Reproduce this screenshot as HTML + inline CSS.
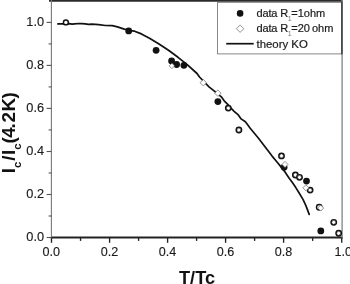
<!DOCTYPE html>
<html>
<head>
<meta charset="utf-8">
<title>Ic/Ic(4.2K) vs T/Tc</title>
<style>
html,body{margin:0;padding:0;background:#fff;}
body{width:350px;height:284px;overflow:hidden;}
svg{display:block;}
text{font-family:"Liberation Sans",Arial,sans-serif;fill:#1a1a1a;}
.tk{font-size:12px;stroke:#1a1a1a;stroke-width:0.12px;}
.lg{font-size:11px;stroke:#1a1a1a;stroke-width:0.2px;}
.ax{font-weight:bold;font-size:18px;fill:#111;}
</style>
</head>
<body>
<svg width="350" height="284" viewBox="0 0 350 284">
<rect x="0" y="0" width="350" height="284" fill="#fff"/>
<!-- axes -->
<g id="axes" fill="none">
<line x1="49" y1="0.8" x2="342.7" y2="0.8" stroke="#2a2a2a" stroke-width="1.8"/>
<line x1="51" y1="237.5" x2="342.7" y2="237.5" stroke="#222" stroke-width="1.9"/>
<line x1="51.4" y1="0" x2="51.4" y2="238.4" stroke="#777" stroke-width="1.1"/>
<line x1="342.1" y1="0" x2="342.1" y2="238.4" stroke="#8a8a8a" stroke-width="1.4"/>
</g>
<!-- y ticks -->
<g id="yticks" stroke="#555" stroke-width="1.1">
<line x1="46.6" y1="22.4" x2="51.5" y2="22.4"/>
<line x1="46.6" y1="65.4" x2="51.5" y2="65.4"/>
<line x1="46.6" y1="108.4" x2="51.5" y2="108.4"/>
<line x1="46.6" y1="151.5" x2="51.5" y2="151.5"/>
<line x1="46.6" y1="194.5" x2="51.5" y2="194.5"/>
<line x1="46.6" y1="237.5" x2="51.5" y2="237.5"/>
<line x1="48.6" y1="43.90" x2="51.5" y2="43.90"/>
<line x1="48.6" y1="86.90" x2="51.5" y2="86.90"/>
<line x1="48.6" y1="129.95" x2="51.5" y2="129.95"/>
<line x1="48.6" y1="173.00" x2="51.5" y2="173.00"/>
<line x1="48.6" y1="216.00" x2="51.5" y2="216.00"/>
</g>
<!-- x ticks -->
<g id="xticks" stroke="#222" stroke-width="1.35">
<line x1="51.5" y1="237.5" x2="51.5" y2="242.8"/>
<line x1="109.6" y1="237.5" x2="109.6" y2="242.8"/>
<line x1="167.6" y1="237.5" x2="167.6" y2="242.8"/>
<line x1="225.6" y1="237.5" x2="225.6" y2="242.8"/>
<line x1="283.6" y1="237.5" x2="283.6" y2="242.8"/>
<line x1="341.7" y1="237.5" x2="341.7" y2="242.8"/>
<line x1="80.55" y1="237.5" x2="80.55" y2="240.9"/>
<line x1="138.60" y1="237.5" x2="138.60" y2="240.9"/>
<line x1="196.60" y1="237.5" x2="196.60" y2="240.9"/>
<line x1="254.60" y1="237.5" x2="254.60" y2="240.9"/>
<line x1="312.65" y1="237.5" x2="312.65" y2="240.9"/>
</g>
<!-- tick labels -->
<g class="tk" text-anchor="end">
<text transform="translate(44.1,25.6) scale(1.065,1)">1.0</text>
<text transform="translate(44.1,68.7) scale(1.065,1)">0.8</text>
<text transform="translate(44.1,111.8) scale(1.065,1)">0.6</text>
<text transform="translate(44.1,154.9) scale(1.065,1)">0.4</text>
<text transform="translate(44.1,198.0) scale(1.065,1)">0.2</text>
<text transform="translate(44.1,241.1) scale(1.065,1)">0.0</text>
</g>
<g class="tk" text-anchor="middle">
<text transform="translate(51.3,256) scale(1.05,1)">0.0</text>
<text transform="translate(109.5,256) scale(1.05,1)">0.2</text>
<text transform="translate(167.5,256) scale(1.05,1)">0.4</text>
<text transform="translate(225.5,256) scale(1.05,1)">0.6</text>
<text transform="translate(283.5,256) scale(1.05,1)">0.8</text>
<text transform="translate(343.2,256) scale(1.05,1)">1.0</text>
</g>
<!-- axis titles -->
<text class="ax" transform="translate(179,283.5) scale(1.04,1)" style="font-size:17.5px">T/Tc</text>
<text class="ax" transform="translate(14.6,173.3) rotate(-90) scale(1.045,1)">I<tspan style="font-size:11px" dy="6">c</tspan><tspan dy="-6" dx="0.8 0.5">/I</tspan><tspan style="font-size:11px" dy="6">c</tspan><tspan dy="-6" dx="0 -0.5 -1.2 0.8 0.5 -0.5">(4.2K)</tspan></text>
<!-- theory curve -->
<path id="curve" fill="none" stroke="#111" stroke-width="1.7" stroke-linejoin="round" stroke-linecap="round"
d="M57.9 23.9 L62.9 23.9 L69.1 23.7 L72 24.2 L74.9 23.9 L78.3 23.5 L81.7 23.7 L85.1 23.9 L88.6 24.4 L92 24.1 L98.6 24.6 L105.4 25.5 L112.3 25.7 L117.4 26.9 L124.3 29.1 L128.6 30.3 L134.6 31.2 L141.4 33.9 L149.5 38.3 L159 44 L168.5 50.3 L178 57.3 L187.5 64.9 L197 73.5 L199.5 77.0 L209 86.8 L214.7 91.3 L221.3 96.8 L224.2 100.8 L228.2 104.9 L232 109.2 L234.1 111.3 L238.3 114.9 L241.1 118.9 L245.4 121.8 L248.2 125.5 L250 128 L258.5 138.3 L267.1 149.4 L272.1 156.1 L277.2 162.2 L280.6 166.4 L284 170.6 L289 178 L292 182 L295.8 187.6 L299.3 193.3 L303.1 199.6 L305.9 205.6 L309.2 214.4"/>
<!-- data: filled circles -->
<g id="filled" fill="#111" stroke="none">
<circle cx="128.7" cy="30.9" r="3.4"/>
<circle cx="156.1" cy="50.3" r="3.4"/>
<circle cx="171.6" cy="60.9" r="3.4"/>
<circle cx="176.6" cy="64.5" r="3.4"/>
<circle cx="183.9" cy="65.3" r="3.4"/>
<circle cx="217.9" cy="101.6" r="3.4"/>
<circle cx="284.1" cy="167.2" r="3.4"/>
<circle cx="306.5" cy="181.1" r="3.4"/>
<circle cx="320.8" cy="230.9" r="3.4"/>
</g>
<!-- data: open circles -->
<g id="open" fill="#fff" stroke="#111" stroke-width="1.45">
<circle cx="65.9" cy="22.4" r="2.45"/>
<circle cx="228.3" cy="108.1" r="2.7"/>
<circle cx="238.9" cy="130.0" r="2.7"/>
<circle cx="281.5" cy="155.9" r="2.7"/>
<circle cx="295.4" cy="175.0" r="2.7"/>
<circle cx="299.5" cy="177.3" r="2.7"/>
<circle cx="310.1" cy="190.1" r="2.7"/>
<circle cx="319.2" cy="207.2" r="2.7"/>
<circle cx="333.75" cy="222.3" r="2.7"/>
<circle cx="338.7" cy="233.2" r="2.7"/>
</g>
<g id="inner" fill="none" stroke="#333" stroke-width="0.6">
<path d="M228.3 105.80 l2.3 2.3 l-2.3 2.3 l-2.3 -2.3z"/>
<path d="M238.9 127.70 l2.3 2.3 l-2.3 2.3 l-2.3 -2.3z"/>
<path d="M281.5 153.60 l2.3 2.3 l-2.3 2.3 l-2.3 -2.3z"/>
<path d="M295.4 172.70 l2.3 2.3 l-2.3 2.3 l-2.3 -2.3z"/>
<path d="M299.5 175.00 l2.3 2.3 l-2.3 2.3 l-2.3 -2.3z"/>
<path d="M310.1 187.80 l2.3 2.3 l-2.3 2.3 l-2.3 -2.3z"/>
<path d="M333.75 220.00 l2.3 2.3 l-2.3 2.3 l-2.3 -2.3z"/>
<path d="M338.7 230.90 l2.3 2.3 l-2.3 2.3 l-2.3 -2.3z"/>
</g>
<!-- data: open diamonds -->
<g id="diamonds" fill="#fff" stroke="#666" stroke-width="0.7">
<path d="M171.9 63.2 l2.7 2.7 l-2.7 2.7 l-2.7 -2.7z"/>
<path d="M203.3 79.5 l3.2 3.2 l-3.2 3.2 l-3.2 -3.2z"/>
<path d="M217.9 90.0 l3.2 3.2 l-3.2 3.2 l-3.2 -3.2z"/>
<path d="M285 161.4 l3.0 3.0 l-3.0 3.0 l-3.0 -3.0z"/>
<path d="M305.9 184.8 l3.0 3.0 l-3.0 3.0 l-3.0 -3.0z"/>
<path d="M320.7 205.1 l3.0 3.0 l-3.0 3.0 l-3.0 -3.0z"/>
</g>
<!-- legend -->
<g id="legend">
<rect x="217.6" y="2.3" width="124" height="51.6" fill="#fff" stroke="#6a6a6a" stroke-width="0.8"/>
<line x1="341.9" y1="1.6" x2="341.9" y2="54.3" stroke="#444" stroke-width="1.6"/>
<circle cx="240.1" cy="13.4" r="3.3" fill="#111"/>
<path d="M240.1 25 l3.7 3.7 l-3.7 3.7 l-3.7 -3.7z" fill="#fff" stroke="#666" stroke-width="0.7"/>
<line x1="226.2" y1="43.7" x2="253.7" y2="43.7" stroke="#111" stroke-width="1.7"/>
<text class="lg" x="256.5" y="17.3"><tspan letter-spacing="-0.15">data </tspan>R<tspan style="font-size:7px;fill:#777;stroke:none" dy="4" dx="-0.3">1</tspan><tspan dy="-4" dx="-0.5">=1ohm</tspan></text>
<text class="lg" x="256.5" y="32.4"><tspan letter-spacing="-0.15">data </tspan>R<tspan style="font-size:7px;fill:#777;stroke:none" dy="4" dx="-0.3">1</tspan><tspan dy="-4" dx="-0.5">=20</tspan><tspan dx="-1.0"> ohm</tspan></text>
<text class="lg" x="256.5" y="47.5" style="font-size:11.4px">theory KO</text>
</g>
</svg>
</body>
</html>
